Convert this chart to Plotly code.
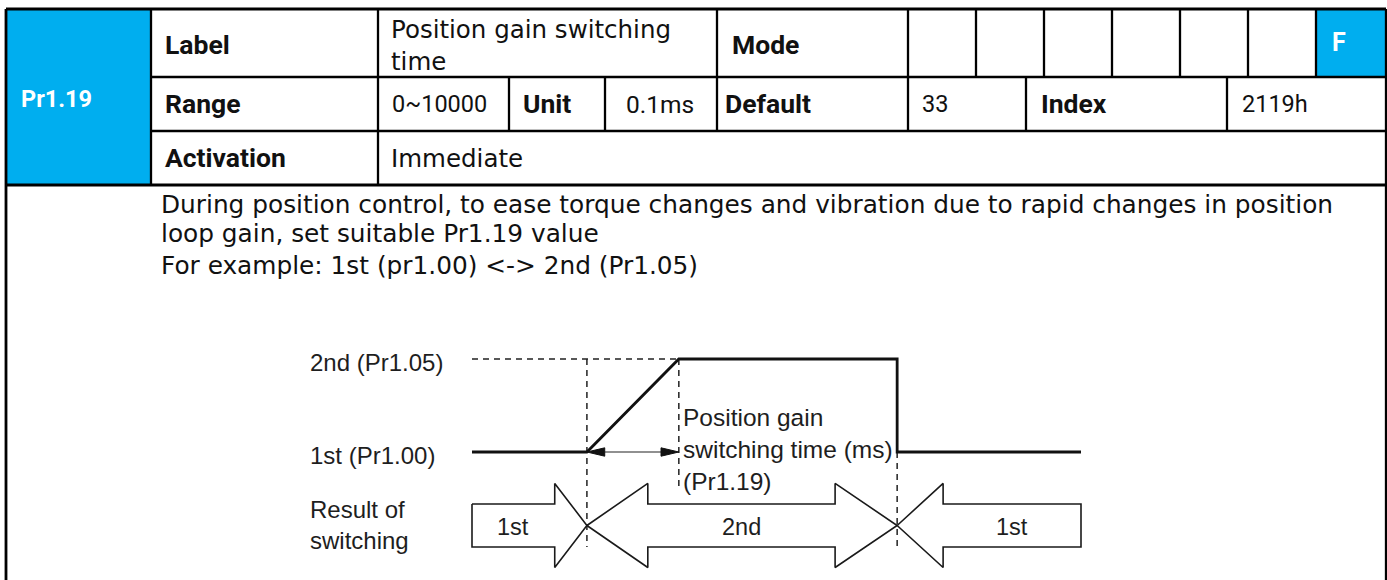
import plotly.graph_objects as go

# ---------------- content (text) ----------------
param_id = "Pr1.19"
label_text = "Position gain switching<br>time"
range_text = "0~10000"
unit_text = "0.1ms"
default_text = "33"
index_text = "2119h"
activation_text = "Immediate"
mode_flags = ["", "", "", "", "", "", "F"]
desc_lines = [
    "During position control, to ease torque changes and vibration due to rapid changes in position",
    "loop gain, set suitable Pr1.19 value",
    "For example: 1st (pr1.00) &lt;-&gt; 2nd (Pr1.05)",
]

# ---------------- diagram data ----------------
wave_t = [0, 10, 18, 37, 37, 53]          # time (arbitrary units)
wave_level = [0, 0, 1, 1, 0, 0]           # 0 = 1st gain, 1 = 2nd gain
level_values = [1, 0]
level_labels = ["2nd (Pr1.05)", "1st (Pr1.00)"]
t_switch = 10
t_ramp_end = 18
t_back = 37
t_start = 0
t_end = 53
result_labels = ["1st", "2nd", "1st"]
result_starts = [0, 10, 37]
result_ends = [10, 37, 53]
# head lengths: (left head, right head) ; 0 = flat end
result_heads = [(0, 2.8), (5.3, 5.4), (4.0, 0)]
switch_note = "Position gain<br>switching time (ms)<br>(Pr1.19)"
result_title = "Result of<br>switching"

# ---------------- style / layout ----------------
W, H = 1387, 580
BLUE = "#00AEEF"
BF = "Roboto"            # bold labels
RF = "DejaVu Sans"       # regular table text
NF = "Roboto"            # numeric cells
DF = "Liberation Sans, Arial"
TXT = "#111111"
DTXT = "#1e1e1e"

# diagram pixel mapping (for overlay axes)
X0, SX = 472.0, 609.0 / 53.0
Y0, SY = 452.0, 93.0
RC = -0.79        # centre level of the result arrows
BH = 0.231        # body half-height
HH = 0.452        # head half-height

LEFT, RIGHT = 6, 1386
ROW_Y = [9, 77, 131, 185]
row1_v = [151, 378, 717, 908, 976, 1044, 1112, 1180, 1248, 1316]
row2_v = [151, 378, 509, 605, 717, 908, 1026, 1227]
row3_v = [151, 378]

fig = go.Figure()
shapes = []


def hline(y, x0, x1, w=2.3):
    shapes.append(dict(type="line", xref="x", yref="y", x0=x0, x1=x1, y0=y, y1=y,
                       line=dict(color="black", width=w)))


def vline(x, y0, y1, w=2.3):
    shapes.append(dict(type="line", xref="x", yref="y", x0=x, x1=x, y0=y0, y1=y1,
                       line=dict(color="black", width=w)))


# blue cells
shapes.append(dict(type="rect", xref="x", yref="y", x0=LEFT, x1=row1_v[0], y0=ROW_Y[0], y1=ROW_Y[3],
                   fillcolor=BLUE, line=dict(width=0)))
shapes.append(dict(type="rect", xref="x", yref="y", x0=row1_v[-1], x1=RIGHT, y0=ROW_Y[0], y1=ROW_Y[1],
                   fillcolor=BLUE, line=dict(width=0)))

hline(ROW_Y[0], LEFT, RIGHT, 2.8)
hline(ROW_Y[1], row1_v[0], RIGHT)
hline(ROW_Y[2], row1_v[0], RIGHT)
hline(ROW_Y[3], LEFT, RIGHT, 2.8)
for x in row1_v:
    vline(x, ROW_Y[0], ROW_Y[1])
for x in row2_v:
    vline(x, ROW_Y[1], ROW_Y[2])
for x in row3_v:
    vline(x, ROW_Y[2], ROW_Y[3])
vline(LEFT, ROW_Y[0], H + 5, 2.8)
vline(RIGHT, ROW_Y[0], H + 5, 2.3)

annotations = []


def txt(text, x, y, size=24, bold=False, color=TXT, font=None, xref="x", yref="y", align="left"):
    if font is None:
        font = BF if bold else RF
    annotations.append(dict(text=text, x=x, y=y, xref=xref, yref=yref, xanchor="left",
                            yanchor="middle", showarrow=False, align=align,
                            font=dict(family=font, size=size, color=color,
                                      weight=700 if bold else 400)))


BS = 26.5   # bold label size
RS = 24.5   # regular text size

# table text
txt(param_id, 19, 99, 23.5, True, "white")
txt("Label", 163, 44, BS, True)
txt(label_text, 389, 45, RS)
txt("Mode", 730, 44, BS, True)
for i, f in enumerate(mode_flags):
    if f:
        txt(f, row1_v[3 + i] + 14, 42, 25, True, "white")
txt("Range", 163, 103, BS, True)
txt(range_text, 390, 104, 23.5, font=NF)
txt("Unit", 521, 103, BS, True)
txt(unit_text, 624, 104, 24.5, font=NF)
txt("Default", 723, 103, BS, True)
txt(default_text, 920, 104, 23.5, font=NF)
txt("Index", 1039, 103, BS, True)
txt(index_text, 1240, 104, 23.5, font=NF)
txt("Activation", 163, 157, BS, True)
txt(activation_text, 389, 158, RS)

for i, line in enumerate(desc_lines):
    txt(line, 159, [204, 233, 265][i], 24.8)

# ---------------- diagram (overlay axes x2/y2) ----------------
DASH = "6px,5px"


def dline(t, l):
    fig.add_trace(go.Scatter(x=t, y=l, xaxis="x2", yaxis="y2", mode="lines",
                             line=dict(color="#222222", width=1.5, dash=DASH),
                             hoverinfo="skip", showlegend=False))


# dashed reference lines
dline([t_start, t_ramp_end], [level_values[0], level_values[0]])
dline([t_switch, t_switch], [level_values[0], RC - BH])
dline([t_ramp_end, t_ramp_end], [level_values[0], -0.39])
dline([t_back, t_back], [level_values[1], RC - BH])

# result arrows
for (s, e), (hl, hr) in zip(zip(result_starts, result_ends), result_heads):
    xs, ys = [], []
    if hl:
        xs += [s, s + hl, s + hl]
        ys += [RC, RC + HH, RC + BH]
    else:
        xs += [s]
        ys += [RC + BH]
    if hr:
        xs += [e - hr, e - hr, e, e - hr, e - hr]
        ys += [RC + BH, RC + HH, RC, RC - HH, RC - BH]
    else:
        xs += [e, e]
        ys += [RC + BH, RC - BH]
    if hl:
        xs += [s + hl, s + hl, s]
        ys += [RC - BH, RC - HH, RC]
    else:
        xs += [s, s]
        ys += [RC - BH, RC + BH]
    fig.add_trace(go.Scatter(x=xs, y=ys, xaxis="x2", yaxis="y2", mode="lines",
                             fill="toself", fillcolor="white",
                             line=dict(color="#1a1a1a", width=1.6),
                             hoverinfo="skip", showlegend=False))

# waveform
fig.add_trace(go.Scatter(x=wave_t, y=wave_level, xaxis="x2", yaxis="y2", mode="lines",
                         line=dict(color="#111111", width=2.8),
                         hoverinfo="skip", showlegend=False))

# switching-time double arrow
AL, AW = 1.55, 0.045
fig.add_trace(go.Scatter(x=[t_switch + AL, t_ramp_end - AL], y=[level_values[1]] * 2,
                         xaxis="x2", yaxis="y2", mode="lines",
                         line=dict(color="#222222", width=1.1),
                         hoverinfo="skip", showlegend=False))
for tip, d in [(t_switch, 1), (t_ramp_end, -1)]:
    fig.add_trace(go.Scatter(x=[tip, tip + d * AL, tip + d * AL, tip],
                             y=[0, AW, -AW, 0], xaxis="x2", yaxis="y2", mode="lines",
                             fill="toself", fillcolor="#111111",
                             line=dict(color="#111111", width=1),
                             hoverinfo="skip", showlegend=False))

# result labels
for lab, (s, e), (hl, hr) in zip(result_labels, zip(result_starts, result_ends), result_heads):
    cx = ((s + hl) + (e - hr)) / 2
    annotations.append(dict(text=lab, x=cx, y=RC - 0.02, xref="x2", yref="y2",
                            xanchor="center", yanchor="middle", showarrow=False,
                            font=dict(family=DF, size=23.5, color=DTXT)))

# diagram labels
DS = 24
for lab, lv in zip(level_labels, level_values):
    txt(lab, 308, lv - 0.04, DS, False, DTXT, DF, "x", "y2")
txt(result_title, 308, RC, DS, False, DTXT, DF, "x", "y2")
txt(switch_note, t_ramp_end + 0.2, 0.03, 24.5, False, DTXT, DF, "x2", "y2")

fig.update_layout(
    width=W, height=H, autosize=False,
    margin=dict(l=0, r=0, t=0, b=0, pad=0),
    paper_bgcolor="white", plot_bgcolor="white",
    xaxis=dict(range=[0, W], visible=False, fixedrange=True),
    yaxis=dict(range=[H, 0], visible=False, fixedrange=True),
    xaxis2=dict(range=[(0 - X0) / SX, (W - X0) / SX], overlaying="x", visible=False, fixedrange=True),
    yaxis2=dict(range=[(Y0 - H) / SY, Y0 / SY], overlaying="y", visible=False, fixedrange=True),
    shapes=shapes, annotations=annotations, showlegend=False,
)

fig.write_html("out.html", config={"displayModeBar": False, "staticPlot": True},
               post_script="document.body.style.margin='0';document.body.style.overflow='hidden';")
